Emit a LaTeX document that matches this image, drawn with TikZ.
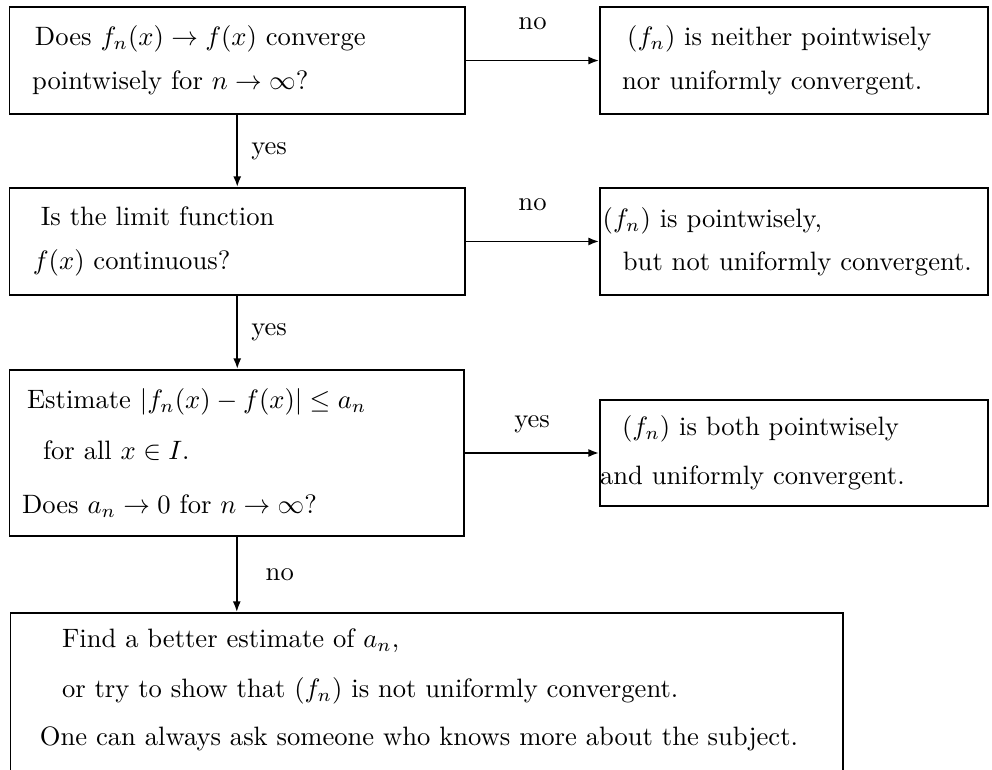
\documentclass[tikz,border=0pt]{standalone}
\usetikzlibrary{arrows.meta}

\tikzset{
    flowbox/.style={draw, line width=0.7pt, inner xsep=0pt, align=left},
    flowarrow/.style={-{Latex[length=4pt,width=3pt]}, line width=0.7pt},
}

\begin{document}
\begin{tikzpicture}
        \useasboundingbox (0,0) rectangle (13.109,-10.162);

        % questions on the left
        \node[flowbox, text width=6.02cm, minimum height=1.414cm] (conv) at (3.135,-0.800) {
            \hspace*{9.6pt}Does $f_n(x)\to f(x)$ converge\\[4.5pt]
            \hspace*{8.5pt}pointwisely for $n\to\infty$?
        };

        \node[flowbox, text width=6.02cm, minimum height=1.414cm] (cont) at (3.135,-3.191) {
            \hspace*{11.8pt}Is the limit function\\[4.2pt]
            \hspace*{8.8pt}$f(x)$ continuous?
        };

        \node[flowbox, text width=6.006cm, minimum height=2.194cm] (est) at (3.129,-5.986) {
            \hspace*{6.6pt}Estimate $|f_n(x)-f(x)|\le a_n$\\[7.2pt]
            \hspace*{12.6pt}for all $x\in I$.\\[8.3pt]
            \hspace*{4.7pt}Does $a_n\to 0$ for $n\to\infty$?
        };

        % answers on the right
        \node[flowbox, text width=5.127cm, minimum height=1.414cm] (neither) at (10.493,-0.800) {
            \hspace*{10.2pt}$(f_n)$ is neither pointwisely\\[4.5pt]
            \hspace*{8.3pt}nor uniformly convergent.
        };

        \node[flowbox, text width=5.127cm, minimum height=1.414cm] (pointonly) at (10.493,-3.191) {
            \hspace*{1pt}$(f_n)$ is pointwisely,\\[4.2pt]
            \hspace*{8.6pt}but not uniformly convergent.
        };

        \node[flowbox, text width=5.127cm, minimum height=1.401cm] (both) at (10.493,-5.986) {
            \hspace*{8.3pt}$(f_n)$ is both pointwisely\\[6.4pt]
            and uniformly convergent.
        };

        % bottom box, runs off the page
        \node[flowbox, text width=11.0cm, anchor=north west, inner ysep=6.1pt] (better) at (0.126,-8.088) {
            \hspace*{19.4pt}Find a better estimate of $a_n$,\\[6.8pt]
            \hspace*{19.4pt}or try to show that $(f_n)$ is not uniformly convergent.\\[6pt]
            \hspace*{11.1pt}One can always ask someone who knows more about the subject.\\[20pt]
            \mbox{}
        };

        \draw[flowarrow] (conv) -- node[above=8pt] (lno1) {no} (neither);
        \draw[flowarrow] (cont) -- node[above=8pt] (lno2) {no} (pointonly);
        \draw[flowarrow] (est) -- node[above=4pt] (lyes3) {yes} (both);

        \draw[flowarrow] (conv) -- node[right=1.6pt] (lyes1) {yes} (cont);
        \draw[flowarrow] (cont.south) -- node[right=1.6pt] (lyes2) {yes} (cont.south |- est.north);
        \draw[flowarrow] (est.south) -- node[right=7.2pt] (lno3) {no} (est.south |- better.north);
    \end{tikzpicture}
\end{document}
